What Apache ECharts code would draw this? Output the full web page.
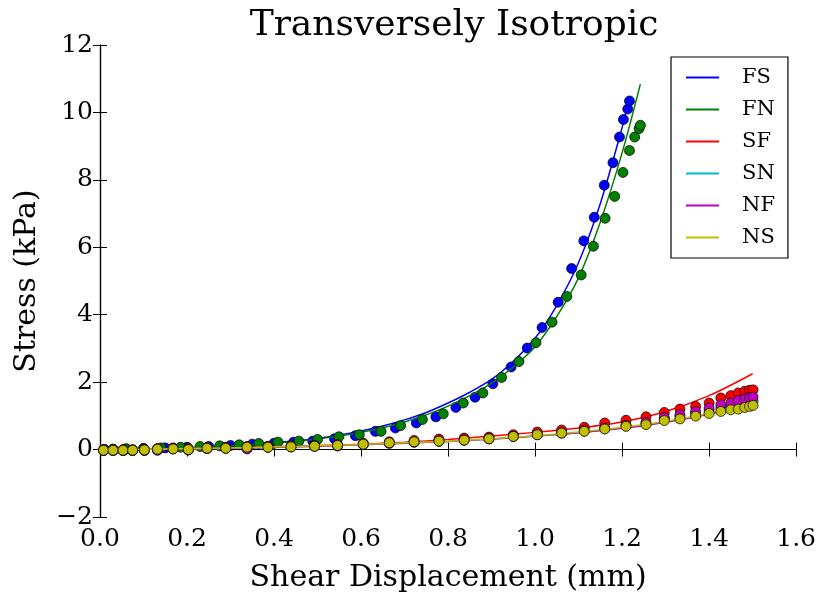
<!DOCTYPE html>
<html>
<head>
<meta charset="utf-8">
<script src="https://cdn.jsdelivr.net/npm/echarts@6/dist/echarts.min.js"></script>
<style>html,body{margin:0;padding:0;background:#fff;}#c{width:819px;height:598px;}</style>
</head>
<body>
<div id="c"></div>
<script>
// ---- data ----
const seriesNames = ['FS', 'FN', 'SF', 'SN', 'NF', 'NS'];
const seriesColors = ['#0000ff', '#008000', '#ff0000', '#00bfbf', '#bf00bf', '#bfbf00'];

// measured points
const fsX = [0.01,0.03,0.06,0.10,0.15,0.20,0.25,0.30,0.35,0.40,0.445,0.489,0.539,0.587,0.633,0.679,0.727,0.772,0.818,0.862,0.903,0.945,0.982,1.016,1.053,1.084,1.112,1.136,1.159,1.179,1.194,1.203,1.213,1.217];
const fsY = [0,0.01,0.02,0.03,0.05,0.07,0.09,0.12,0.16,0.19,0.22,0.25,0.32,0.41,0.54,0.64,0.79,0.97,1.25,1.55,1.95,2.45,3.01,3.62,4.37,5.37,6.19,6.89,7.84,8.51,9.27,9.79,10.10,10.34];
const fnX = [0.01,0.03,0.06,0.10,0.14,0.185,0.23,0.275,0.32,0.365,0.409,0.457,0.500,0.549,0.596,0.646,0.691,0.741,0.789,0.835,0.880,0.923,0.963,1.002,1.039,1.073,1.106,1.134,1.161,1.183,1.202,1.217,1.229,1.239,1.242];
const fnY = [0,0.01,0.02,0.03,0.05,0.07,0.09,0.11,0.14,0.18,0.22,0.25,0.30,0.38,0.44,0.54,0.71,0.89,1.06,1.38,1.68,2.14,2.61,3.17,3.78,4.54,5.18,6.03,6.86,7.51,8.22,8.87,9.27,9.52,9.62];
const lowX = [0.008,0.030,0.053,0.075,0.102,0.132,0.168,0.203,0.246,0.289,0.338,0.386,0.439,0.493,0.546,0.605,0.665,0.722,0.779,0.837,0.894,0.950,1.005,1.061,1.113,1.160,1.209,1.255,1.297,1.333,1.369,1.400,1.427,1.450,1.467,1.482,1.493,1.501];
const sfY = [0,0,0,0,0.01,0.03,0.05,0.03,0.06,0.07,0.09,0.10,0.11,0.13,0.15,0.19,0.23,0.27,0.31,0.34,0.37,0.44,0.52,0.58,0.66,0.79,0.87,0.97,1.10,1.20,1.28,1.38,1.53,1.60,1.68,1.73,1.76,1.77];
const snY = [-0.03,-0.03,-0.03,-0.03,-0.02,-0.01,0.02,-0.01,0.03,0.04,0.04,0.07,0.08,0.10,0.11,0.15,0.19,0.22,0.25,0.28,0.32,0.39,0.44,0.49,0.55,0.62,0.70,0.76,0.90,0.97,1.06,1.14,1.22,1.27,1.32,1.37,1.41,1.43];
const nfY = [-0.03,-0.03,-0.03,-0.03,-0.03,-0.02,0.02,-0.01,0.03,0.04,0.02,0.07,0.08,0.10,0.11,0.15,0.19,0.22,0.25,0.28,0.32,0.39,0.45,0.50,0.56,0.63,0.72,0.80,0.95,1.03,1.13,1.23,1.33,1.38,1.46,1.50,1.54,1.56];
const nsY = [-0.02,-0.02,-0.02,-0.02,-0.01,0.01,0.02,0.00,0.04,0.04,0.07,0.07,0.08,0.10,0.12,0.16,0.20,0.23,0.25,0.28,0.32,0.39,0.44,0.49,0.54,0.61,0.69,0.74,0.86,0.91,0.99,1.07,1.13,1.18,1.20,1.25,1.28,1.31];

// fitted curves
const fsFitX = [0,0.05,0.1,0.15,0.2,0.25,0.3,0.35,0.4,0.45,0.5,0.55,0.6,0.65,0.7,0.75,0.8,0.85,0.9,0.95,1.0,1.05,1.1,1.15,1.2,1.215];
const fsFitY = [0,0.01,0.02,0.03,0.05,0.08,0.11,0.15,0.2,0.26,0.33,0.43,0.55,0.70,0.88,1.10,1.38,1.70,2.08,2.62,3.3,4.28,5.55,7.3,9.55,10.35];
const fnFitX = [0,0.05,0.1,0.15,0.2,0.25,0.3,0.35,0.4,0.45,0.5,0.55,0.6,0.65,0.7,0.75,0.8,0.85,0.9,0.95,1.0,1.05,1.1,1.15,1.2,1.242];
const fnFitY = [0,0.01,0.02,0.03,0.05,0.07,0.10,0.14,0.19,0.24,0.31,0.40,0.51,0.65,0.82,1.03,1.29,1.60,1.97,2.45,3.05,3.95,5.1,6.75,8.8,10.84];
const lowFitX = [0,0.1,0.2,0.3,0.4,0.5,0.6,0.7,0.8,0.9,1.0,1.1,1.2,1.3,1.4,1.5];
const sfFitY = [0,0.01,0.03,0.05,0.08,0.12,0.16,0.22,0.30,0.40,0.51,0.64,0.82,1.13,1.60,2.25];
const snFitY = [0,0.01,0.02,0.04,0.07,0.10,0.14,0.19,0.24,0.31,0.40,0.50,0.64,0.82,1.06,1.37];
const nfFitY = [0,0.01,0.02,0.04,0.07,0.10,0.14,0.19,0.24,0.31,0.40,0.50,0.63,0.81,1.05,1.35];
const nsFitY = [0,0.01,0.03,0.05,0.08,0.11,0.15,0.20,0.25,0.32,0.41,0.52,0.66,0.84,1.08,1.40];

const xTicks = [0.0,0.2,0.4,0.6,0.8,1.0,1.2,1.4,1.6];
const yTicks = [-2,0,2,4,6,8,10,12];

// ---- build options ----
const zip = (xs, ys) => xs.map((x, i) => [x, ys[i]]);
const pts = [[fsX, fsY],[fnX, fnY],[lowX, sfY],[lowX, snY],[lowX, nfY],[lowX, nsY]];
const fits = [[fsFitX, fsFitY],[fnFitX, fnFitY],[lowFitX, sfFitY],[lowFitX, snFitY],[lowFitX, nfFitY],[lowFitX, nsFitY]];
const FONT = 'DejaVu Serif';

const series = [];
seriesNames.forEach((n, i) => {
  series.push({
    name: n, type: 'line', data: zip(fits[i][0], fits[i][1]),
    symbol: 'none', showSymbol: false, smooth: 0.3,
    lineStyle: { color: seriesColors[i], width: 1.5 }, itemStyle: { color: seriesColors[i] },
    z: 2 + i * 2, silent: true, animation: false
  });
  series.push({
    name: n + ' data', type: 'scatter', data: zip(pts[i][0], pts[i][1]),
    symbol: 'circle', symbolSize: 10,
    itemStyle: { color: seriesColors[i], borderColor: '#000', borderWidth: 0.7, opacity: 1 },
    z: 3 + i * 2, silent: true, animation: false
  });
});

const axisCommon = {
  axisLine: { show: true, lineStyle: { color: '#000', width: 1.2 } },
  axisTick: { show: true, inside: true, length: 7, lineStyle: { color: '#000', width: 1 } },
  splitLine: { show: false }
};

const chart = echarts.init(document.getElementById('c'), null, { renderer: 'canvas' });
chart.setOption({
  animation: false,
  backgroundColor: '#fff',
  title: {
    text: 'Transversely Isotropic', left: 449, top: 3, textAlign: 'center',
    textStyle: { fontFamily: FONT, fontSize: 36, fontWeight: 'normal', color: '#000' }
  },
  grid: { left: 100, right: 21, top: 45, bottom: 80 },
  legend: {
    data: seriesNames.map((n, i) => ({ name: n, icon: 'rect', itemStyle: { color: seriesColors[i] } })),
    orient: 'vertical', left: 671, top: 57,
    itemWidth: 33, itemHeight: 2, itemGap: 11,
    padding: [10, 13, 10, 15],
    borderColor: '#000', borderWidth: 1.2, backgroundColor: '#fff',
    textStyle: { fontFamily: FONT, fontSize: 21, color: '#000', lineHeight: 19, padding: [0, 0, 0, 18] },
    selectedMode: false
  },
  xAxis: [
    Object.assign({
      type: 'value', min: 0, max: 1.6, interval: 0.2,
      name: 'Shear Displacement (mm)', nameLocation: 'middle', nameGap: 46,
      nameTextStyle: { fontFamily: FONT, fontSize: 30, color: '#000' },
      axisLabel: { fontFamily: FONT, fontSize: 25, color: '#000', margin: 10,
        formatter: v => { const t = xTicks.find(k => Math.abs(k - v) < 1e-6); return t === undefined ? '' : t.toFixed(1); } }
    }, axisCommon),
    Object.assign({
      type: 'value', min: 0, max: 1.6, interval: 0.2, position: 'top', axisLabel: { show: false }
    }, axisCommon)
  ],
  yAxis: [
    Object.assign({
      type: 'value', min: -2, max: 12, interval: 2,
      name: 'Stress (kPa)', nameLocation: 'middle', nameGap: 58, nameRotate: 90,
      nameTextStyle: { fontFamily: FONT, fontSize: 30, color: '#000' },
      axisLabel: { fontFamily: FONT, fontSize: 25, color: '#000', margin: 7,
        formatter: v => { const t = yTicks.find(k => Math.abs(k - v) < 1e-6); return t === undefined ? '' : (t < 0 ? '\u2212' + (-t) : String(t)); } }
    }, axisCommon),
    Object.assign({
      type: 'value', min: -2, max: 12, interval: 2, position: 'right', axisLabel: { show: false }
    }, axisCommon)
  ],
  series: series
});
</script>
</body>
</html>
